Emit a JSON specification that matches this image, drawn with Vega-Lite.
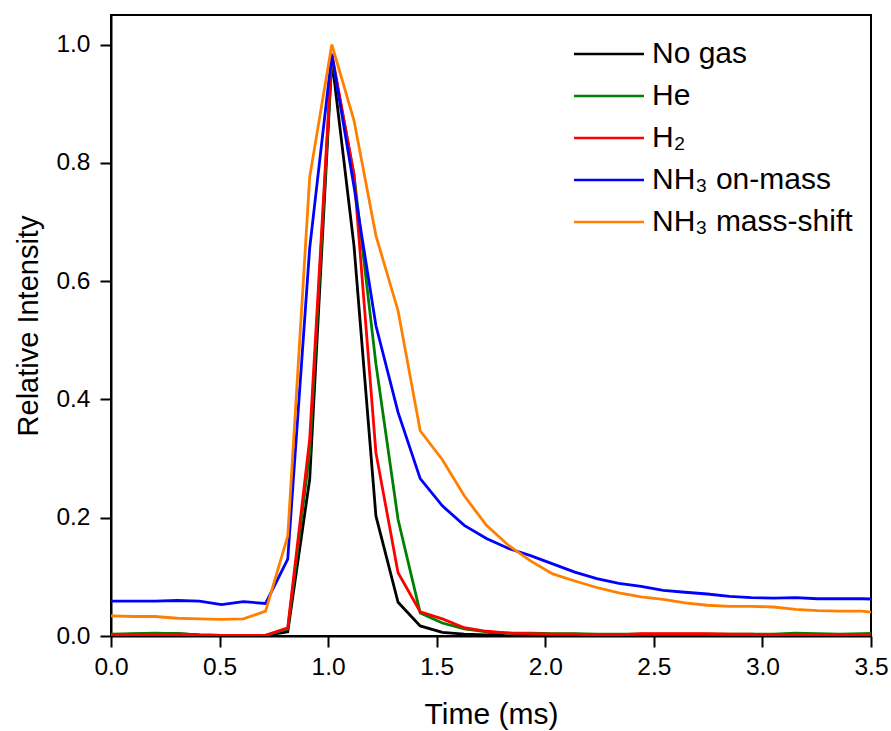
{
  "$schema": "https://vega.github.io/schema/vega-lite/v6.json",
  "autosize": "none",
  "padding": {"left": 111, "top": 15, "right": 20, "bottom": 95},
  "width": 760,
  "height": 621,
  "background": "white",
  "config": {
    "view": {"stroke": "black", "strokeWidth": 2},
    "font": "Liberation Sans"
  },
  "data": {"values": [
    {"t":0,"gas":"No gas","v":0.002},{"t":0.102,"gas":"No gas","v":0.003},{"t":0.203,"gas":"No gas","v":0.004},{"t":0.305,"gas":"No gas","v":0.004},{"t":0.407,"gas":"No gas","v":0.002},{"t":0.509,"gas":"No gas","v":0.001},{"t":0.61,"gas":"No gas","v":0.001},{"t":0.712,"gas":"No gas","v":0.001},{"t":0.814,"gas":"No gas","v":0.007},{"t":0.915,"gas":"No gas","v":0.265},{"t":1.017,"gas":"No gas","v":0.975},{"t":1.119,"gas":"No gas","v":0.66},{"t":1.22,"gas":"No gas","v":0.203},{"t":1.322,"gas":"No gas","v":0.057},{"t":1.424,"gas":"No gas","v":0.017},{"t":1.526,"gas":"No gas","v":0.006},{"t":1.627,"gas":"No gas","v":0.003},{"t":1.729,"gas":"No gas","v":0.002},{"t":1.831,"gas":"No gas","v":0.005},{"t":1.932,"gas":"No gas","v":0.003},{"t":2.034,"gas":"No gas","v":0.002},{"t":2.136,"gas":"No gas","v":0.002},{"t":2.237,"gas":"No gas","v":0.001},{"t":2.339,"gas":"No gas","v":0.002},{"t":2.441,"gas":"No gas","v":0.001},{"t":2.543,"gas":"No gas","v":0.002},{"t":2.644,"gas":"No gas","v":0.002},{"t":2.746,"gas":"No gas","v":0.001},{"t":2.848,"gas":"No gas","v":0.002},{"t":2.949,"gas":"No gas","v":0.001},{"t":3.051,"gas":"No gas","v":0.001},{"t":3.153,"gas":"No gas","v":0.002},{"t":3.254,"gas":"No gas","v":0.001},{"t":3.356,"gas":"No gas","v":0.001},{"t":3.458,"gas":"No gas","v":0.002},{"t":3.56,"gas":"No gas","v":0.002},
    {"t":0,"gas":"He","v":0.003},{"t":0.102,"gas":"He","v":0.004},{"t":0.203,"gas":"He","v":0.005},{"t":0.305,"gas":"He","v":0.004},{"t":0.407,"gas":"He","v":0.002},{"t":0.509,"gas":"He","v":0.001},{"t":0.61,"gas":"He","v":0.001},{"t":0.712,"gas":"He","v":0.001},{"t":0.814,"gas":"He","v":0.012},{"t":0.915,"gas":"He","v":0.31},{"t":1.017,"gas":"He","v":0.98},{"t":1.119,"gas":"He","v":0.78},{"t":1.22,"gas":"He","v":0.46},{"t":1.322,"gas":"He","v":0.197},{"t":1.424,"gas":"He","v":0.039},{"t":1.526,"gas":"He","v":0.022},{"t":1.627,"gas":"He","v":0.012},{"t":1.729,"gas":"He","v":0.007},{"t":1.831,"gas":"He","v":0.005},{"t":1.932,"gas":"He","v":0.005},{"t":2.034,"gas":"He","v":0.004},{"t":2.136,"gas":"He","v":0.004},{"t":2.237,"gas":"He","v":0.003},{"t":2.339,"gas":"He","v":0.003},{"t":2.441,"gas":"He","v":0.003},{"t":2.543,"gas":"He","v":0.003},{"t":2.644,"gas":"He","v":0.003},{"t":2.746,"gas":"He","v":0.003},{"t":2.848,"gas":"He","v":0.003},{"t":2.949,"gas":"He","v":0.003},{"t":3.051,"gas":"He","v":0.003},{"t":3.153,"gas":"He","v":0.005},{"t":3.254,"gas":"He","v":0.004},{"t":3.356,"gas":"He","v":0.003},{"t":3.458,"gas":"He","v":0.004},{"t":3.56,"gas":"He","v":0.005},
    {"t":0,"gas":"H₂","v":0.001},{"t":0.102,"gas":"H₂","v":0.001},{"t":0.203,"gas":"H₂","v":0.001},{"t":0.305,"gas":"H₂","v":0.001},{"t":0.407,"gas":"H₂","v":0.001},{"t":0.509,"gas":"H₂","v":0.001},{"t":0.61,"gas":"H₂","v":0.001},{"t":0.712,"gas":"H₂","v":0.001},{"t":0.814,"gas":"H₂","v":0.014},{"t":0.915,"gas":"H₂","v":0.333},{"t":1.017,"gas":"H₂","v":0.985},{"t":1.119,"gas":"H₂","v":0.78},{"t":1.22,"gas":"H₂","v":0.31},{"t":1.322,"gas":"H₂","v":0.107},{"t":1.424,"gas":"H₂","v":0.041},{"t":1.526,"gas":"H₂","v":0.029},{"t":1.627,"gas":"H₂","v":0.014},{"t":1.729,"gas":"H₂","v":0.008},{"t":1.831,"gas":"H₂","v":0.005},{"t":1.932,"gas":"H₂","v":0.004},{"t":2.034,"gas":"H₂","v":0.003},{"t":2.136,"gas":"H₂","v":0.003},{"t":2.237,"gas":"H₂","v":0.002},{"t":2.339,"gas":"H₂","v":0.002},{"t":2.441,"gas":"H₂","v":0.004},{"t":2.543,"gas":"H₂","v":0.004},{"t":2.644,"gas":"H₂","v":0.004},{"t":2.746,"gas":"H₂","v":0.004},{"t":2.848,"gas":"H₂","v":0.003},{"t":2.949,"gas":"H₂","v":0.003},{"t":3.051,"gas":"H₂","v":0.001},{"t":3.153,"gas":"H₂","v":0.001},{"t":3.254,"gas":"H₂","v":0.001},{"t":3.356,"gas":"H₂","v":0.001},{"t":3.458,"gas":"H₂","v":0.002},{"t":3.56,"gas":"H₂","v":0.004},
    {"t":0,"gas":"NH₃ on-mass","v":0.059},{"t":0.102,"gas":"NH₃ on-mass","v":0.059},{"t":0.203,"gas":"NH₃ on-mass","v":0.059},{"t":0.305,"gas":"NH₃ on-mass","v":0.06},{"t":0.407,"gas":"NH₃ on-mass","v":0.059},{"t":0.509,"gas":"NH₃ on-mass","v":0.053},{"t":0.61,"gas":"NH₃ on-mass","v":0.058},{"t":0.712,"gas":"NH₃ on-mass","v":0.055},{"t":0.814,"gas":"NH₃ on-mass","v":0.13},{"t":0.915,"gas":"NH₃ on-mass","v":0.656},{"t":1.017,"gas":"NH₃ on-mass","v":0.983},{"t":1.119,"gas":"NH₃ on-mass","v":0.76},{"t":1.22,"gas":"NH₃ on-mass","v":0.525},{"t":1.322,"gas":"NH₃ on-mass","v":0.378},{"t":1.424,"gas":"NH₃ on-mass","v":0.266},{"t":1.526,"gas":"NH₃ on-mass","v":0.22},{"t":1.627,"gas":"NH₃ on-mass","v":0.187},{"t":1.729,"gas":"NH₃ on-mass","v":0.165},{"t":1.831,"gas":"NH₃ on-mass","v":0.148},{"t":1.932,"gas":"NH₃ on-mass","v":0.136},{"t":2.034,"gas":"NH₃ on-mass","v":0.122},{"t":2.136,"gas":"NH₃ on-mass","v":0.108},{"t":2.237,"gas":"NH₃ on-mass","v":0.097},{"t":2.339,"gas":"NH₃ on-mass","v":0.089},{"t":2.441,"gas":"NH₃ on-mass","v":0.084},{"t":2.543,"gas":"NH₃ on-mass","v":0.077},{"t":2.644,"gas":"NH₃ on-mass","v":0.074},{"t":2.746,"gas":"NH₃ on-mass","v":0.071},{"t":2.848,"gas":"NH₃ on-mass","v":0.067},{"t":2.949,"gas":"NH₃ on-mass","v":0.065},{"t":3.051,"gas":"NH₃ on-mass","v":0.064},{"t":3.153,"gas":"NH₃ on-mass","v":0.065},{"t":3.254,"gas":"NH₃ on-mass","v":0.063},{"t":3.356,"gas":"NH₃ on-mass","v":0.063},{"t":3.458,"gas":"NH₃ on-mass","v":0.063},{"t":3.56,"gas":"NH₃ on-mass","v":0.062},
    {"t":0,"gas":"NH₃ mass-shift","v":0.034},{"t":0.102,"gas":"NH₃ mass-shift","v":0.033},{"t":0.203,"gas":"NH₃ mass-shift","v":0.033},{"t":0.305,"gas":"NH₃ mass-shift","v":0.03},{"t":0.407,"gas":"NH₃ mass-shift","v":0.029},{"t":0.509,"gas":"NH₃ mass-shift","v":0.028},{"t":0.61,"gas":"NH₃ mass-shift","v":0.029},{"t":0.712,"gas":"NH₃ mass-shift","v":0.042},{"t":0.814,"gas":"NH₃ mass-shift","v":0.169},{"t":0.915,"gas":"NH₃ mass-shift","v":0.776},{"t":1.017,"gas":"NH₃ mass-shift","v":1.0},{"t":1.119,"gas":"NH₃ mass-shift","v":0.872},{"t":1.22,"gas":"NH₃ mass-shift","v":0.677},{"t":1.322,"gas":"NH₃ mass-shift","v":0.55},{"t":1.424,"gas":"NH₃ mass-shift","v":0.347},{"t":1.526,"gas":"NH₃ mass-shift","v":0.298},{"t":1.627,"gas":"NH₃ mass-shift","v":0.237},{"t":1.729,"gas":"NH₃ mass-shift","v":0.187},{"t":1.831,"gas":"NH₃ mass-shift","v":0.153},{"t":1.932,"gas":"NH₃ mass-shift","v":0.127},{"t":2.034,"gas":"NH₃ mass-shift","v":0.105},{"t":2.136,"gas":"NH₃ mass-shift","v":0.093},{"t":2.237,"gas":"NH₃ mass-shift","v":0.082},{"t":2.339,"gas":"NH₃ mass-shift","v":0.073},{"t":2.441,"gas":"NH₃ mass-shift","v":0.066},{"t":2.543,"gas":"NH₃ mass-shift","v":0.062},{"t":2.644,"gas":"NH₃ mass-shift","v":0.056},{"t":2.746,"gas":"NH₃ mass-shift","v":0.052},{"t":2.848,"gas":"NH₃ mass-shift","v":0.05},{"t":2.949,"gas":"NH₃ mass-shift","v":0.05},{"t":3.051,"gas":"NH₃ mass-shift","v":0.049},{"t":3.153,"gas":"NH₃ mass-shift","v":0.045},{"t":3.254,"gas":"NH₃ mass-shift","v":0.043},{"t":3.356,"gas":"NH₃ mass-shift","v":0.042},{"t":3.458,"gas":"NH₃ mass-shift","v":0.042},{"t":3.56,"gas":"NH₃ mass-shift","v":0.038}
  ]},
  "mark": {"type": "line", "strokeWidth": 2.8, "clip": true},
  "encoding": {
    "x": {"field": "t", "type": "quantitative", "title": "Time (ms)",
      "scale": {"domain": [0, 3.5], "nice": false, "zero": false},
      "axis": {"values": [0, 0.5, 1, 1.5, 2, 2.5, 3, 3.5], "format": ".1f", "labelFlush": false, "grid": false, "ticks": true,
        "domainColor": "black", "domainWidth": 2, "tickColor": "black", "tickWidth": 2, "tickSize": 11,
        "labelColor": "black", "labelFont": "Liberation Sans", "labelFontSize": 24.5, "labelPadding": 8,
        "titleColor": "black", "titleFont": "Liberation Sans", "titleFontSize": 30, "titleFontWeight": "normal", "titlePadding": 21}},
    "y": {"field": "v", "type": "quantitative", "title": "Relative Intensity",
      "scale": {"domain": [0, 1.05], "nice": false},
      "axis": {"values": [0, 0.2, 0.4, 0.6, 0.8, 1.0], "format": ".1f", "labelFlush": false, "grid": false, "ticks": true,
        "domainColor": "black", "domainWidth": 2, "tickColor": "black", "tickWidth": 2, "tickSize": 11,
        "labelColor": "black", "labelFont": "Liberation Sans", "labelFontSize": 24.5, "labelPadding": 10,
        "titleColor": "black", "titleFont": "Liberation Sans", "titleFontSize": 29, "titleFontWeight": "normal", "titlePadding": 12}},
    "color": {"field": "gas", "type": "nominal",
      "scale": {"domain": ["No gas", "He", "H₂", "NH₃ on-mass", "NH₃ mass-shift"], "range": ["#000000", "#008000", "#ff0000", "#0000ff", "#ff8000"]},
      "legend": {"title": null, "orient": "none", "legendX": 479, "legendY": 20, "symbolType": "M-2,0H2", "symbolSize": 1225, "symbolStrokeWidth": 2.5, "labelOffset": 24, "rowPadding": 8, "padding": 0, "labelLimit": 0, "labelFont": "Liberation Sans", "labelFontSize": 30, "labelColor": "black"}}
  }
}
